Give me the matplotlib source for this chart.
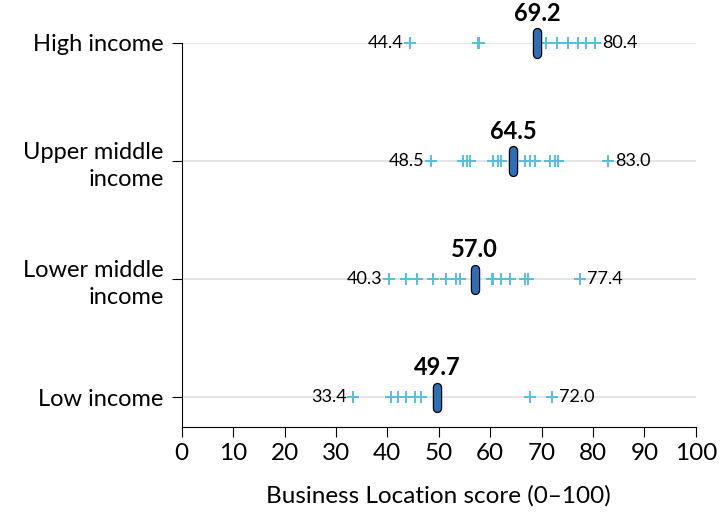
import numpy as np
import matplotlib.pyplot as plt

plt.rcParams['font.family'] = ['Lato', 'DejaVu Sans']

groups = ['Low income', 'Lower middle\nincome', 'Upper middle\nincome', 'High income']
medians = [49.7, 57.0, 64.5, 69.2]
scores = [
    [33.4, 40.8, 42.1, 43.7, 45.3, 46.6, 67.7, 72.0],
    [40.3, 43.7, 45.7, 48.9, 51.5, 53.4, 54.1, 60.3, 60.6, 62.2, 63.8, 66.7, 67.4, 77.4],
    [48.5, 54.7, 55.4, 56.0, 60.6, 61.5, 62.2, 66.7, 67.7, 68.7, 71.6, 72.6, 73.2, 83.0],
    [44.4, 57.6, 57.9, 70.9, 73.0, 75.2, 77.0, 78.6, 80.4],
]

fig = plt.figure(figsize=(7.24, 5.18), dpi=100)
ax = fig.add_axes([0.251, 0.176, 0.710, 0.741])

for i, vals in enumerate(scores):
    ax.axhline(i, color='#e0e0e0', lw=1.2, zorder=0)
    ax.plot(vals, [i] * len(vals), ls='none', marker='+', ms=9, mew=1.4,
            color='#5bbcdc', zorder=2, clip_on=False)
    lo, hi = min(vals), max(vals)
    ax.annotate(f'{lo:.1f}', (lo, i), xytext=(-5, 0), textcoords='offset points',
                ha='right', va='center', fontsize=13)
    ax.annotate(f'{hi:.1f}', (hi, i), xytext=(5, 0), textcoords='offset points',
                ha='left', va='center', fontsize=13)
    # median pill
    ax.plot([medians[i], medians[i]], [i - 0.09, i + 0.09], color='black',
            lw=6.8, solid_capstyle='round', zorder=3, clip_on=False)
    ax.plot([medians[i], medians[i]], [i - 0.09, i + 0.09], color='#2f6db5',
            lw=5.0, solid_capstyle='round', zorder=4, clip_on=False)
    ax.annotate(f'{medians[i]:.1f}', (medians[i], i), xytext=(0, 13),
                textcoords='offset points', ha='center', va='bottom',
                fontsize=17, fontweight='bold')

ax.set_xlim(0, 100)
ax.set_ylim(-0.25, 3)
ax.set_xticks(np.arange(0, 101, 10))
ax.set_yticks(range(len(groups)))
ax.set_yticklabels(groups, fontsize=17, linespacing=1.35)
ax.tick_params(axis='x', labelsize=17.5, length=7, pad=5)
ax.tick_params(axis='y', length=7, pad=6)
ax.spines['top'].set_visible(False)
ax.spines['right'].set_visible(False)
ax.set_xlabel('Business Location score (0\u2013100)', fontsize=17.5, labelpad=15)

fig.savefig('out.png', dpi=100)
